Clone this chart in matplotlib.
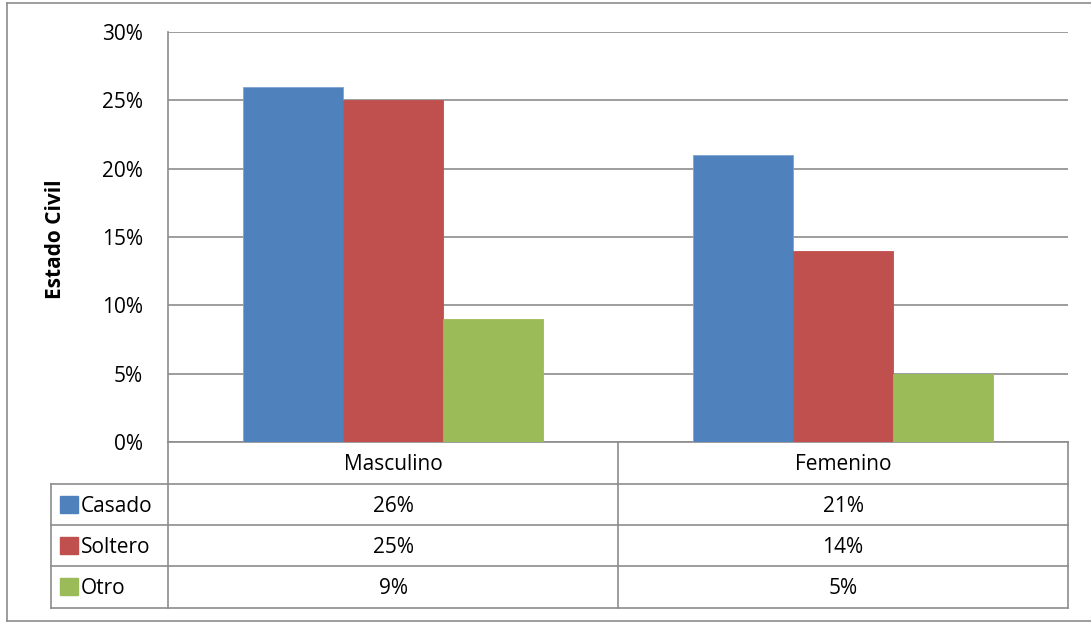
import numpy as np
import matplotlib.pyplot as plt
from matplotlib.patches import Rectangle
from matplotlib.lines import Line2D

plt.rcParams['font.family'] = ['Open Sans', 'DejaVu Sans']

categories = ['Masculino', 'Femenino']
series = ['Casado', 'Soltero', 'Otro']
casado = [26, 21]
soltero = [25, 14]
otro = [9, 5]
values = [casado, soltero, otro]
colors = ['#4F81BD', '#C0504D', '#9BBB59']
yticks = [0, 5, 10, 15, 20, 25, 30]

W, H = 1091, 622
fig = plt.figure(figsize=(W / 100, H / 100), dpi=100)
ax = fig.add_axes([168 / W, (H - 442) / H, (1068 - 168) / W, (442 - 32) / H])

grid_col = '#8C8C8C'
fs = 15
x = np.arange(len(categories))
bw = 100 / 450
for i, (s, v) in enumerate(zip(series, values)):
    ax.bar(x + (i - 1) * bw, v, width=bw, color=colors[i], zorder=3,
           edgecolor='#7FA3D3' if i == 0 else colors[i], linewidth=0.6)

ax.set_xlim(-0.5, len(categories) - 0.5)
ax.set_ylim(0, 30)
ax.set_yticks(yticks)
ax.set_yticklabels(['%d%%' % t for t in yticks], fontsize=fs)
ax.set_xticks([])
ax.tick_params(axis='y', length=0, pad=18)
ax.yaxis.grid(True, color=grid_col, linewidth=1.2, zorder=0)
for sp in ['top', 'right', 'bottom']:
    ax.spines[sp].set_visible(False)
ax.spines['left'].set_color(grid_col)
ax.spines['left'].set_linewidth(1.2)
ax.set_ylabel('Estado Civil', fontsize=fs, fontweight='bold')
ax.yaxis.set_label_coords(-(168 - 66) / 900, (442 - 239) / 410)

# data table, drawn below the axes (y in axes fraction)
def ya(p):
    return -(p - 442) / 410

rows_px = [442, 484, 525, 566, 608]
lab_w = (168 - 51) / 900
lk = dict(color=grid_col, linewidth=1.2, clip_on=False, transform=ax.transAxes)
ax.add_line(Line2D([0, 1], [ya(442)] * 2, **lk))
for p in rows_px[1:]:
    ax.add_line(Line2D([-lab_w, 1], [ya(p)] * 2, **lk))
ax.add_line(Line2D([-lab_w, -lab_w], [ya(484), ya(608)], **lk))
for xv in [0, 0.5, 1]:
    ax.add_line(Line2D([xv, xv], [ya(442), ya(608)], **lk))

xt = ax.get_xaxis_transform()
for j, cat in enumerate(categories):
    ax.text(j, ya(465), cat, transform=xt, ha='center', va='center', fontsize=fs)
for i, row in enumerate(values):
    yc = ya((rows_px[i + 1] + rows_px[i + 2]) / 2 + 2)
    for j, v in enumerate(row):
        ax.text(j, yc, '%d%%' % v, transform=xt, ha='center', va='center', fontsize=fs)
    ax.text(-(168 - 81) / 900, yc, series[i], transform=ax.transAxes,
            ha='left', va='center', fontsize=fs)
    y0 = 496 + i * 41
    fig.add_artist(Rectangle((60 / W, (H - y0 - 17) / H), 18 / W, 17 / H,
                             transform=fig.transFigure, color=colors[i]))

# outer chart border
for xs, ys in [([7, 7], [3, 621]), ([7, W], [3, 3]), ([7, W], [621, 621])]:
    fig.add_artist(Line2D([a / W for a in xs], [(H - b) / H for b in ys],
                          transform=fig.transFigure, color='#8C8C8C', linewidth=1.2))

fig.savefig('out.png', dpi=100)
